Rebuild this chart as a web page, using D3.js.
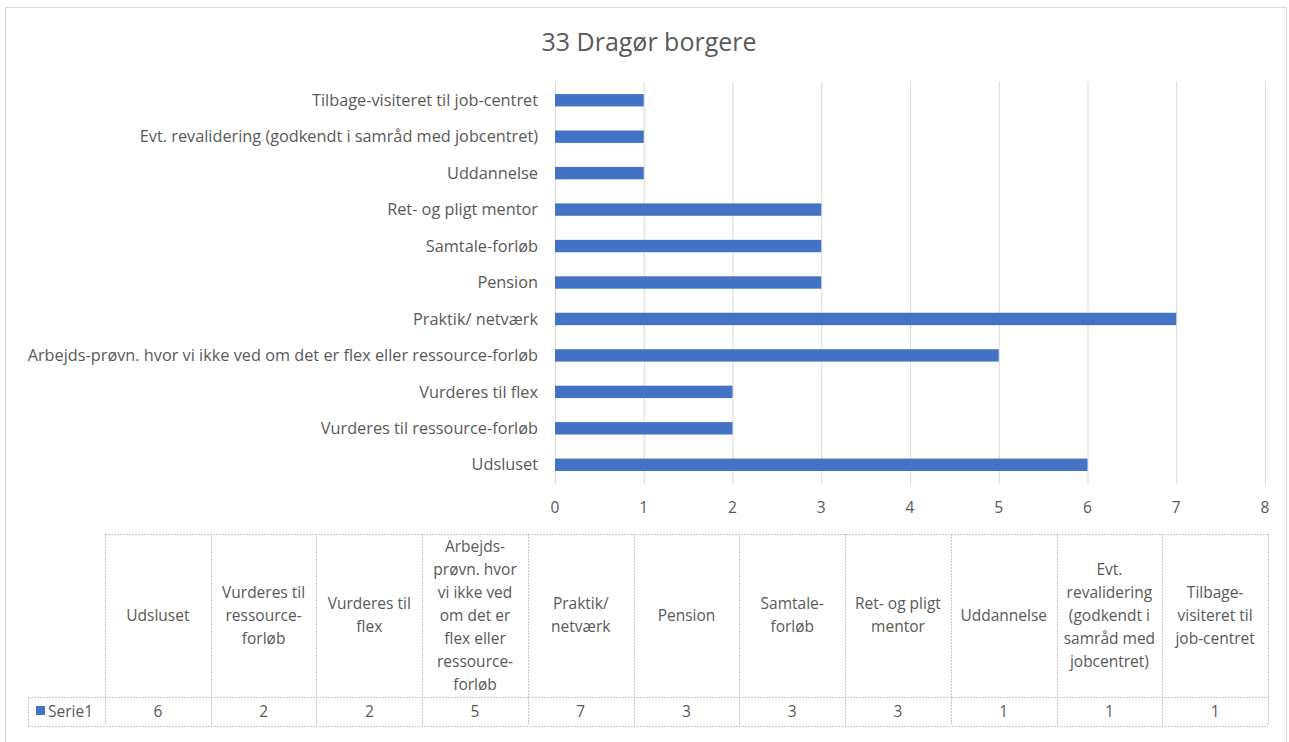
<!DOCTYPE html>
<html><head><meta charset="utf-8">
<script src="https://cdn.jsdelivr.net/npm/d3@7"></script>
<style>body{margin:0;background:#fff}svg{display:block}text{font-family:"Open Sans",sans-serif;fill:#595959}</style>
</head><body><svg id="c" width="1289" height="742"></svg>
<script>
const categories = ["Udsluset","Vurderes til ressource-forløb","Vurderes til flex","Arbejds-prøvn. hvor vi ikke ved om det er flex eller ressource-forløb","Praktik/ netværk","Pension","Samtale-forløb","Ret- og pligt mentor","Uddannelse","Evt. revalidering (godkendt i samråd med jobcentret)","Tilbage-visiteret til job-centret"];
const values = [6,2,2,5,7,3,3,3,1,1,1];
const headerLines = [["Udsluset"],["Vurderes til","ressource-","forløb"],["Vurderes til","flex"],["Arbejds-","prøvn. hvor","vi ikke ved","om det er","flex eller","ressource-","forløb"],["Praktik/","netværk"],["Pension"],["Samtale-","forløb"],["Ret- og pligt","mentor"],["Uddannelse"],["Evt.","revalidering","(godkendt i","samråd med","jobcentret)"],["Tilbage-","visiteret til","job-centret"]];
const xTicks = [0,1,2,3,4,5,6,7,8];
const seriesName = "Serie1";
const title = "33 Dragør borgere";

const svg = d3.select("#c");
const blue = "#4472c4", grid = "#d9d9d9";
const fs = 15.5;
svg.append("rect").attr("x",5.5).attr("y",7.5).attr("width",1281).attr("height",745).attr("fill","none").attr("stroke","#d9d9d9");
svg.append("text").attr("x",649).attr("y",51).attr("text-anchor","middle").attr("font-size",25).text(title);

const x = d3.scaleLinear().domain([0,8]).range([555,1265]);
const y = d3.scaleBand().domain(categories.slice().reverse()).range([82,483]).paddingInner(0.66).paddingOuter(0.33);

const g = svg.append("g");
g.selectAll("line.grid").data(xTicks).join("line").attr("class","grid")
 .attr("x1",d=>x(d)+0.5).attr("x2",d=>x(d)+0.5).attr("y1",82).attr("y2",484).attr("stroke",grid);
g.selectAll("rect.bar").data(categories).join("rect").attr("class","bar")
 .attr("x",x(0)).attr("y",d=>y(d)).attr("height",y.bandwidth()).attr("width",(d,i)=>x(values[i])-x(0)).attr("fill",blue);
g.selectAll("text.cat").data(categories).join("text").attr("class","cat")
 .attr("x",538).attr("y",d=>y(d)+y.bandwidth()/2).attr("dy","0.35em").attr("text-anchor","end").attr("font-size",16.3).text(d=>d);
g.selectAll("text.tick").data(xTicks).join("text").attr("class","tick")
 .attr("x",d=>x(d)).attr("y",513).attr("text-anchor","middle").attr("font-size",fs).text(d=>d);

// data table
const tx = d3.scaleBand().domain(categories).range([105,1268]);
const tTop = 534, hb = 697, bot = 726, lblX = 28;
const tb = svg.append("g").attr("stroke","#c8c8c8").attr("stroke-dasharray","2,1");
tb.append("line").attr("x1",105).attr("x2",1268).attr("y1",tTop+0.5).attr("y2",tTop+0.5);
tb.append("line").attr("x1",lblX).attr("x2",1268).attr("y1",hb+0.5).attr("y2",hb+0.5);
tb.append("line").attr("x1",lblX).attr("x2",1268).attr("y1",bot+0.5).attr("y2",bot+0.5);
tb.append("line").attr("x1",lblX+0.5).attr("x2",lblX+0.5).attr("y1",hb).attr("y2",bot);
const edges = categories.map(c=>tx(c)).concat([1268]);
tb.selectAll("line.v").data(edges).join("line").attr("class","v")
 .attr("x1",d=>Math.round(d)+0.5).attr("x2",d=>Math.round(d)+0.5).attr("y1",tTop).attr("y2",bot);

const hg = svg.append("g");
categories.forEach((c,i)=>{
  const lines = headerLines[i], lh = 23, cy = (tTop+hb)/2;
  const t = hg.append("text").attr("text-anchor","middle").attr("font-size",fs);
  lines.forEach((l,j)=>{
    t.append("tspan").attr("x",tx(c)+tx.bandwidth()/2).attr("y",cy+(j-(lines.length-1)/2)*lh).attr("dy","0.35em").text(l);
  });
  hg.append("text").attr("x",tx(c)+tx.bandwidth()/2).attr("y",(hb+bot)/2).attr("dy","0.35em").attr("text-anchor","middle").attr("font-size",fs).text(values[i]);
});
svg.append("rect").attr("x",36).attr("y",706).attr("width",9).attr("height",9).attr("fill",blue);
svg.append("text").attr("x",48).attr("y",(hb+bot)/2).attr("dy","0.35em").attr("font-size",fs).text(seriesName);
</script></body></html>
